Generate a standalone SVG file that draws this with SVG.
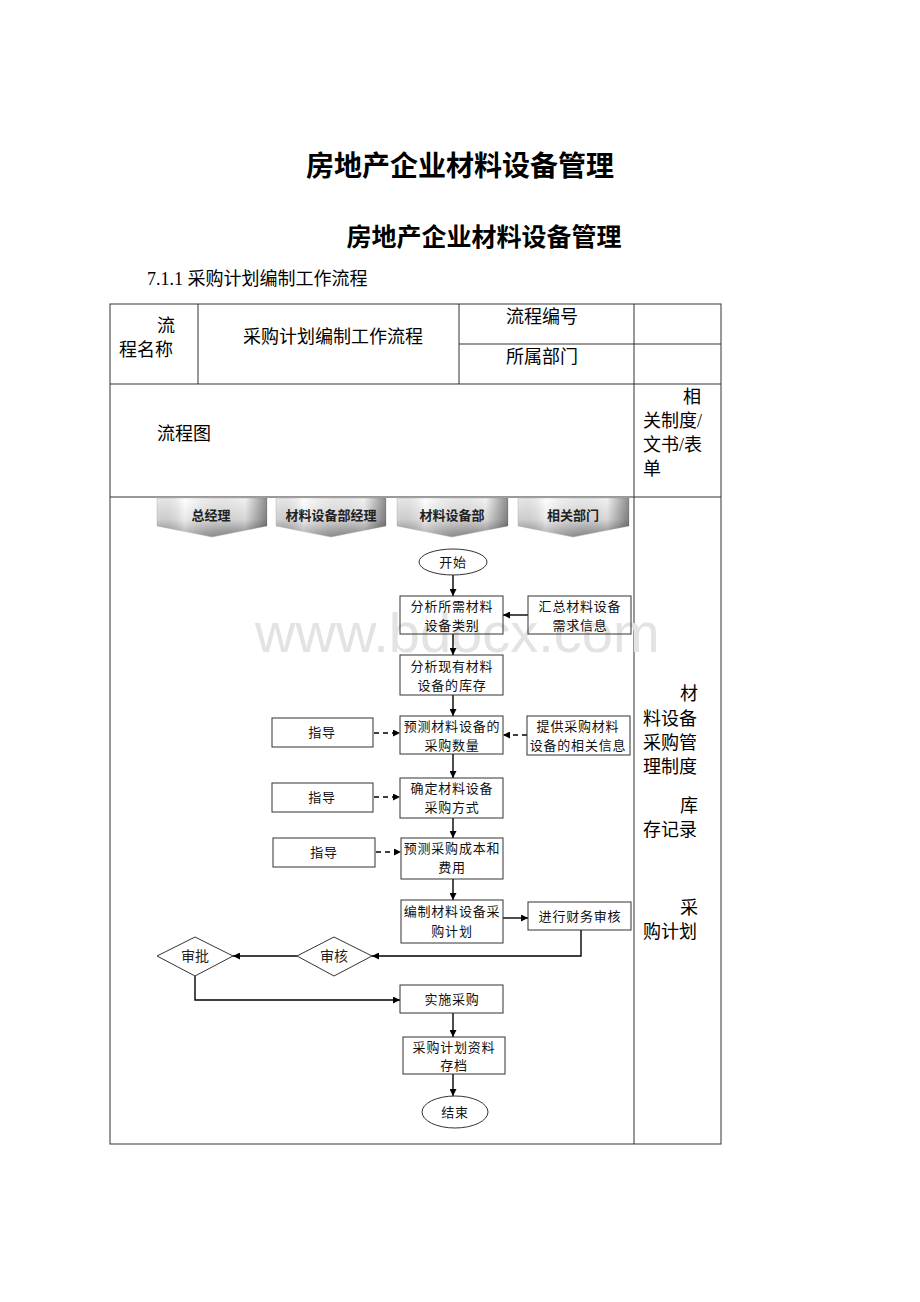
<svg xmlns="http://www.w3.org/2000/svg" width="920" height="1302" viewBox="0 0 920 1302">
<defs>
<linearGradient id="lane" x1="0" y1="0" x2="0" y2="1">
<stop offset="0" stop-color="#ffffff"/>
<stop offset="0.55" stop-color="#e2e2e2"/>
<stop offset="1" stop-color="#8a8a8a"/>
</linearGradient>
<linearGradient id="laneSide" x1="0" y1="0" x2="1" y2="0">
<stop offset="0" stop-color="#000" stop-opacity="0.08"/>
<stop offset="0.25" stop-color="#fff" stop-opacity="0.3"/>
<stop offset="0.8" stop-color="#000" stop-opacity="0.05"/>
<stop offset="1" stop-color="#000" stop-opacity="0.45"/>
</linearGradient>
<marker id="ah" viewBox="0 0 10 10" refX="10" refY="5" markerWidth="7" markerHeight="7" markerUnits="userSpaceOnUse" orient="auto">
<path d="M0,0 L10,5 L0,10 z" fill="#000"/>
</marker>
</defs>
<style>
.t{font-family:"Liberation Serif","Noto Sans CJK SC",serif;fill:#000}
.title{font-family:"Liberation Sans","Noto Sans CJK SC",sans-serif;font-weight:bold;fill:#000;text-anchor:middle}
.cell{font-family:"Liberation Serif","Noto Sans CJK SC",serif;font-size:18px;fill:#000}
.grid{stroke:#333;stroke-width:1;fill:none}
.box{fill:none;stroke:#333;stroke-width:1}
.bt{font-family:"Liberation Serif","Noto Sans CJK SC",serif;font-size:13px;fill:#111;text-anchor:middle;letter-spacing:0.8px}
.lh{font-family:"Liberation Sans","Noto Sans CJK SC",sans-serif;font-size:13px;font-weight:bold;fill:#222;text-anchor:middle}
.lane{fill:url(#lane);stroke:#bbb;stroke-width:0.5}
.sh{fill:url(#laneSide)}
.c{fill:none;stroke:#000;stroke-width:1.4;marker-end:url(#ah)}
.d{fill:none;stroke:#000;stroke-width:1.4;stroke-dasharray:5,4;marker-end:url(#ah)}
.wm{font-family:"Liberation Sans",sans-serif;font-size:56px;fill:#e3e3e3}
</style>
<rect width="920" height="1302" fill="#fff"/>

<text class="title" x="460" y="176" font-size="28">房地产企业材料设备管理</text>
<text class="title" x="484" y="246" font-size="25">房地产企业材料设备管理</text>
<text class="t" x="147" y="285" font-size="18">7.1.1 采购计划编制工作流程</text>

<g id="table">
<rect class="grid" x="110" y="304" width="611" height="840"/>
<line class="grid" x1="110" y1="384" x2="721" y2="384"/>
<line class="grid" x1="110" y1="497" x2="721" y2="497"/>
<line class="grid" x1="459" y1="344" x2="721" y2="344"/>
<line class="grid" x1="198" y1="304" x2="198" y2="384"/>
<line class="grid" x1="459" y1="304" x2="459" y2="384"/>
<line class="grid" x1="634" y1="304" x2="634" y2="1144"/>
<text class="cell" x="157" y="332">流</text>
<text class="cell" x="119" y="356">程名称</text>
<text class="cell" x="243" y="343">采购计划编制工作流程</text>
<text class="cell" x="506" y="323">流程编号</text>
<text class="cell" x="506" y="363">所属部门</text>
<text class="cell" x="157" y="440">流程图</text>
<text class="cell" x="683" y="403">相</text>
<text class="cell" x="643" y="427">关制度/</text>
<text class="cell" x="643" y="451">文书/表</text>
<text class="cell" x="643" y="475">单</text>
<text class="cell" x="680" y="700">材</text>
<text class="cell" x="643" y="725">料设备</text>
<text class="cell" x="643" y="749">采购管</text>
<text class="cell" x="643" y="773">理制度</text>
<text class="cell" x="680" y="812">库</text>
<text class="cell" x="643" y="836">存记录</text>
<text class="cell" x="680" y="914">采</text>
<text class="cell" x="643" y="938">购计划</text>
</g>

<text class="wm" x="255" y="652">www.bdocx.com</text>

<g id="lane-gm">
<path class="lane" d="M157,498 L267,498 L267,526 L212,537 L157,526 z"/>
<path class="sh" d="M157,498 L267,498 L267,526 L212,537 L157,526 z"/>
<text class="lh" x="211" y="520">总经理</text>
</g>
<g id="lane-mgr">
<path class="lane" d="M276,498 L386,498 L386,526 L331,537 L276,526 z"/>
<path class="sh" d="M276,498 L386,498 L386,526 L331,537 L276,526 z"/>
<text class="lh" x="331" y="520">材料设备部经理</text>
</g>
<g id="lane-dept">
<path class="lane" d="M397,498 L508,498 L508,526 L452,537 L397,526 z"/>
<path class="sh" d="M397,498 L508,498 L508,526 L452,537 L397,526 z"/>
<text class="lh" x="452" y="520">材料设备部</text>
</g>
<g id="lane-rel">
<path class="lane" d="M518,498 L629,498 L629,526 L573,537 L518,526 z"/>
<path class="sh" d="M518,498 L629,498 L629,526 L573,537 L518,526 z"/>
<text class="lh" x="573" y="520">相关部门</text>
</g>

<g id="connectors">
<path class="c" d="M453,575 L453,596"/>
<path class="c" d="M528,615 L503,615"/>
<path class="c" d="M453,634 L453,655"/>
<path class="c" d="M453,695 L453,716"/>
<path class="d" d="M374,733 L400,733"/>
<path class="d" d="M527,735 L503,735"/>
<path class="c" d="M453,754 L453,778"/>
<path class="d" d="M374,797 L400,797"/>
<path class="c" d="M453,818 L453,838"/>
<path class="d" d="M376,852 L401,852"/>
<path class="c" d="M453,879 L453,900"/>
<path class="c" d="M503,918 L528,918"/>
<path class="c" d="M581,930 L581,956 L372,956"/>
<path class="c" d="M297,956 L233,956"/>
<path class="c" d="M195,976 L195,1000 L400,1000"/>
<path class="c" d="M453,1013 L453,1037"/>
<path class="c" d="M453,1074 L453,1096"/>
</g>

<g id="n-start">
<ellipse class="box" cx="453" cy="562" rx="34" ry="13"/>
<text class="bt" x="453" y="567">开始</text>
</g>
<g id="n-analyze-type">
<rect class="box" x="400" y="596" width="103" height="38"/>
<text class="bt" x="452" y="611">分析所需材料</text>
<text class="bt" x="452" y="630">设备类别</text>
</g>
<g id="n-collect">
<rect class="box" x="528" y="596" width="103" height="38"/>
<text class="bt" x="580" y="611">汇总材料设备</text>
<text class="bt" x="580" y="630">需求信息</text>
</g>
<g id="n-stock">
<rect class="box" x="400" y="655" width="103" height="40"/>
<text class="bt" x="452" y="671">分析现有材料</text>
<text class="bt" x="452" y="690">设备的库存</text>
</g>
<g id="n-guide1">
<rect class="box" x="272" y="718" width="101" height="29"/>
<text class="bt" x="322" y="737">指导</text>
</g>
<g id="n-qty">
<rect class="box" x="400" y="716" width="103" height="38"/>
<text class="bt" x="452" y="731">预测材料设备的</text>
<text class="bt" x="452" y="750">采购数量</text>
</g>
<g id="n-info">
<rect class="box" x="527" y="716" width="103" height="39"/>
<text class="bt" x="578" y="731">提供采购材料</text>
<text class="bt" x="578" y="750">设备的相关信息</text>
</g>
<g id="n-guide2">
<rect class="box" x="272" y="783" width="101" height="29"/>
<text class="bt" x="322" y="802">指导</text>
</g>
<g id="n-method">
<rect class="box" x="400" y="778" width="103" height="40"/>
<text class="bt" x="452" y="793">确定材料设备</text>
<text class="bt" x="452" y="812">采购方式</text>
</g>
<g id="n-guide3">
<rect class="box" x="273" y="838" width="102" height="29"/>
<text class="bt" x="324" y="857">指导</text>
</g>
<g id="n-cost">
<rect class="box" x="401" y="838" width="102" height="41"/>
<text class="bt" x="452" y="853">预测采购成本和</text>
<text class="bt" x="452" y="872">费用</text>
</g>
<g id="n-plan">
<rect class="box" x="401" y="900" width="102" height="43"/>
<text class="bt" x="452" y="916">编制材料设备采</text>
<text class="bt" x="452" y="936">购计划</text>
</g>
<g id="n-finance">
<rect class="box" x="528" y="902" width="103" height="28"/>
<text class="bt" x="580" y="921">进行财务审核</text>
</g>
<g id="n-review">
<path class="box" d="M297,956 L334,937 L372,956 L334,976 z"/>
<text class="lh" x="334" y="961" style="font-weight:normal;font-size:14px">审核</text>
</g>
<g id="n-approve">
<path class="box" d="M157,956 L195,937 L233,956 L195,976 z"/>
<text class="lh" x="195" y="961" style="font-weight:normal;font-size:14px">审批</text>
</g>
<g id="n-implement">
<rect class="box" x="400" y="985" width="103" height="28"/>
<text class="bt" x="452" y="1004">实施采购</text>
</g>
<g id="n-archive">
<rect class="box" x="403" y="1037" width="102" height="37"/>
<text class="bt" x="454" y="1052">采购计划资料</text>
<text class="bt" x="454" y="1070">存档</text>
</g>
<g id="n-end">
<ellipse class="box" cx="455" cy="1112" rx="33" ry="16"/>
<text class="bt" x="455" y="1117">结束</text>
</g>
</svg>
